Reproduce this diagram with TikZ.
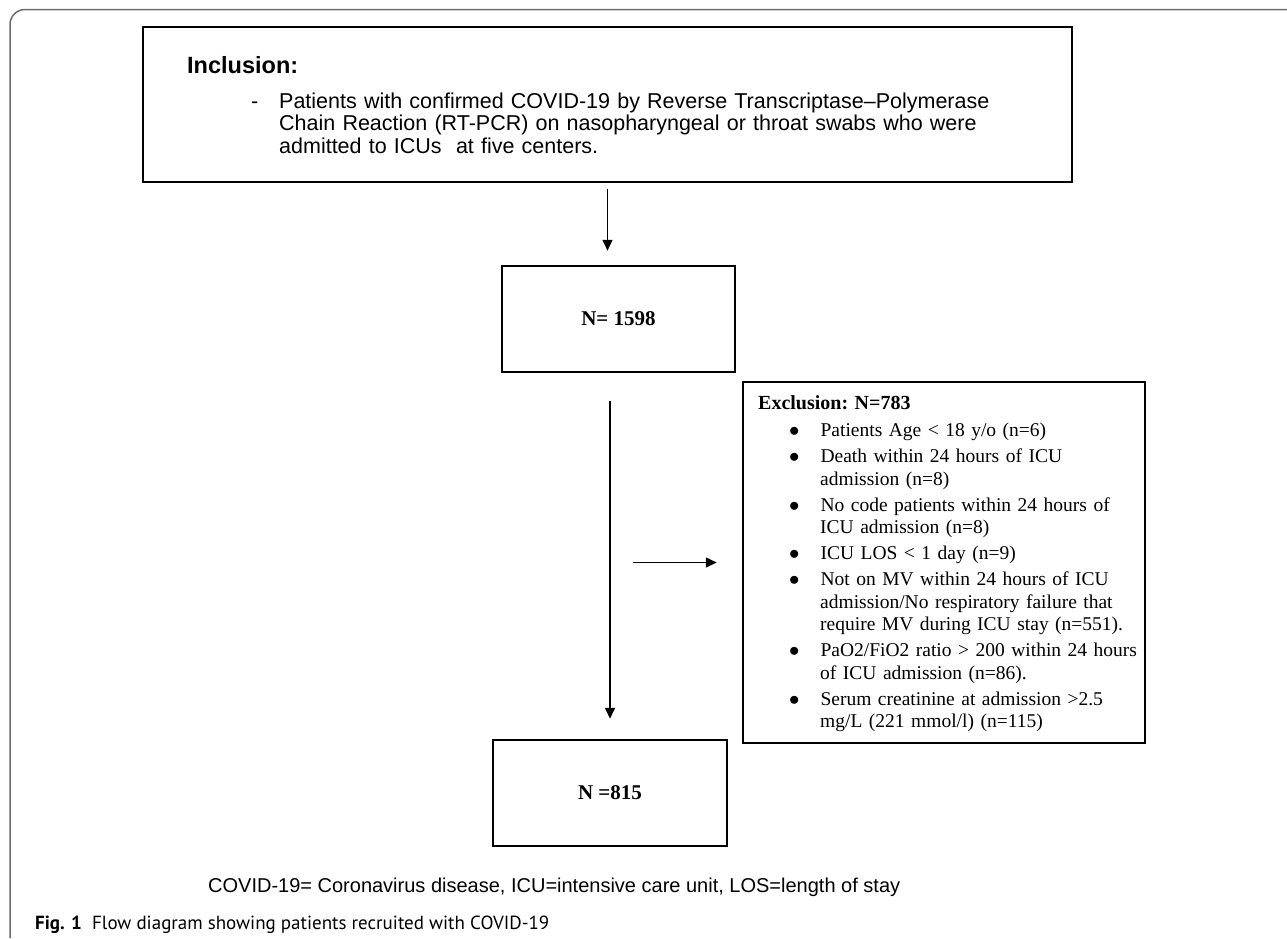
\documentclass[tikz,border=0pt]{standalone}
\usepackage{fontspec}
\setmainfont{Liberation Serif}
\setsansfont{Liberation Sans}
\newfontfamily\capfont{PT Sans}
\usetikzlibrary{arrows.meta}

\begin{document}
\begin{tikzpicture}[x = 1pt, y = -1pt]
	\tikzstyle{boxStyle} = [draw, line width = 2.5pt, inner sep = 0pt]
	\tikzstyle{countStyle} = [font = \fontsize{21}{25}\selectfont\bfseries]
	\tikzstyle{textStyle} = [inner sep = 0pt, anchor = north west]
	\tikzstyle{arrowStyle} = [line width = 1.5pt, -{Triangle[length = 11pt, width = 10pt]}]
	\useasboundingbox (0,0) rectangle (1287,938);
	\draw[color = black!58, line width = 1.5pt, rounded corners = 15pt] (1287,9.5) -- (10,9.5) -- (10,938);
	% boxes
	\node[boxStyle, minimum width = 929pt, minimum height = 155pt] (incl) at (607.5,104.5) {};
	\node[boxStyle, countStyle, minimum width = 233pt, minimum height = 106pt] (n1598) at (618.5,319) {N= 1598};
	\node[boxStyle, countStyle, minimum width = 234pt, minimum height = 106pt] (n815) at (610,793) {N =815};
	\node[boxStyle, minimum width = 402pt, minimum height = 361pt] (excl) at (944,562.5) {};
	% texts
	\node[textStyle, font = \sffamily\bfseries\fontsize{23.5}{26}\selectfont] (inclTitle) at (187,56.7) {Inclusion:};
	\node[textStyle, text width = 860pt, font = \sffamily\fontsize{21.5}{22.5}\selectfont] (inclBody) at (187,85.6) {%
		\begin{list}{-}{\leftmargin = 92pt \labelwidth = 20pt \labelsep = 21pt \topsep = 0pt \partopsep = 0pt \itemsep = 0pt \parsep = 0pt}
		\item Patients with confirmed COVID-19 by Reverse Transcriptase--Polymerase\newline
		Chain Reaction (RT-PCR) on nasopharyngeal or throat swabs who were\newline
		admitted to ICUs\ \ at five centers.
		\end{list}};
	\node[textStyle, text width = 385pt, font = \fontsize{19.5}{22.5}\selectfont] (exclText) at (758,395.7) {\raggedright\frenchspacing
		{\fontsize{20}{22.5}\selectfont\bfseries Exclusion: N=783}\par
		\begin{list}{$\bullet$}{\leftmargin = 62pt \labelwidth = 10pt \labelsep = 21pt \topsep = 4.5pt \partopsep = 0pt \itemsep = 3.5pt \parsep = 0pt}
		\item Patients Age < 18 y/o (n=6)
		\item Death within 24 hours of ICU\newline admission (n=8)
		\item No code patients within 24 hours of\newline ICU admission (n=8)
		\item ICU LOS < 1 day (n=9)
		\item Not on MV within 24 hours of ICU\newline admission/No respiratory failure that\newline require MV during ICU stay (n=551).
		\item PaO2/FiO2 ratio > 200 within 24 hours\newline of ICU admission (n=86).
		\item Serum creatinine at admission >2.5\newline mg/L (221 mmol/l) (n=115)
		\end{list}};
	\node[inner sep = 0pt, anchor = base west, font = \sffamily\fontsize{20}{24}\selectfont] (note) at (208,892) {COVID-19= Coronavirus disease, ICU=intensive care unit, LOS=length of stay};
	\node[inner sep = 0pt, anchor = base west, font = \capfont\fontsize{19}{23}\selectfont] (caption) at (35,929) {\textbf{Fig. 1}\ \ Flow diagram showing patients recruited with COVID-19};
	% arrows
	\draw[arrowStyle, shorten <= 6pt, shorten >= 14pt] (incl.south) -- (incl.south |- n1598.north);
	\draw[arrowStyle, shorten <= 28pt, shorten >= 20pt] (n815.north |- n1598.south) -- (n815.north);
	\draw[arrowStyle, shorten <= 23pt, shorten >= 25pt] (excl.west -| n815.north) -- (excl.west);
\end{tikzpicture}
\end{document}
